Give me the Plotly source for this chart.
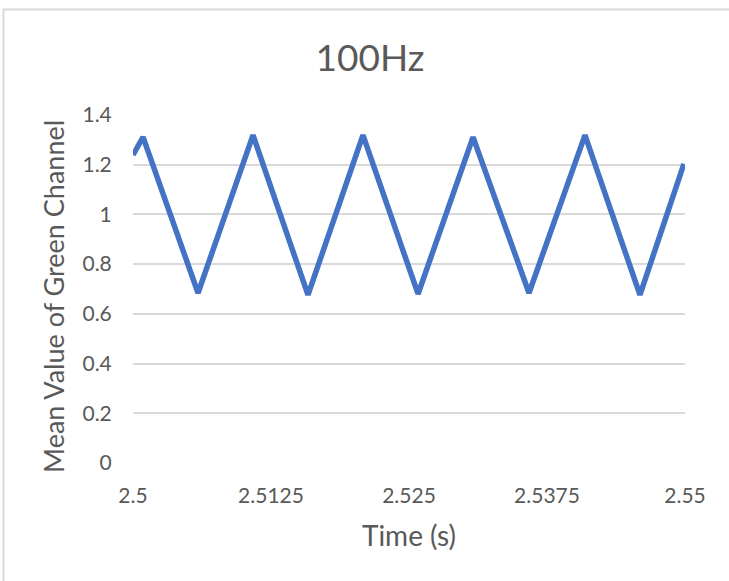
import plotly.graph_objects as go

# Vertices of the green-channel waveform (time in s, mean value)
time_s = [2.5000, 2.50091, 2.50589, 2.51087, 2.51585, 2.52083, 2.52582,
          2.53080, 2.53587, 2.54094, 2.54592, 2.5499]
green_mean = [1.239, 1.311, 0.684, 1.319, 0.676, 1.319, 0.680,
              1.311, 0.684, 1.319, 0.676, 1.203]

x_ticks = [2.5, 2.5125, 2.525, 2.5375, 2.55]
x_tick_text = ["2.5", "2.5125", "2.525", "2.5375", "2.55"]
y_ticks = [0, 0.2, 0.4, 0.6, 0.8, 1.0, 1.2, 1.4]
y_tick_text = ["0", "0.2", "0.4", "0.6", "0.8", "1", "1.2", "1.4"]

W, H = 729, 581
L, R, T, B = 133, 44, 115, 118
pw, ph = W - L - R, H - T - B

TEXT = "#595959"
GRID = "#D9D9D9"
FONT = "Lato"


def px_to_paper_x(px):
    return (px - L) / pw


def px_to_paper_y(py):
    return (H - B - py) / ph


fig = go.Figure()
fig.add_trace(go.Scatter(
    x=time_s, y=green_mean, mode="lines",
    line=dict(color="#4472C4", width=5.5),
    hoverinfo="skip", showlegend=False,
))

fig.update_layout(
    width=W, height=H,
    margin=dict(l=L, r=R, t=T, b=B, pad=0),
    paper_bgcolor="white", plot_bgcolor="white",
    font=dict(family=FONT, color=TEXT),
    title=dict(text="100Hz", x=370 / W, xanchor="center",
               y=1 - 58 / H, yanchor="middle",
               font=dict(family=FONT, size=37, color=TEXT)),
    xaxis=dict(
        range=[2.5, 2.55], tickvals=x_ticks, ticktext=x_tick_text,
        showgrid=False, zeroline=False, showline=False,
        ticks="outside", ticklen=14, tickcolor="rgba(0,0,0,0)",
        tickfont=dict(family=FONT, size=21, color=TEXT),
        title=dict(text="Time (s)", standoff=20,
                   font=dict(family=FONT, size=28, color=TEXT)),
    ),
    yaxis=dict(
        range=[0, 1.4], tickvals=y_ticks, ticktext=y_tick_text,
        showgrid=True, gridcolor=GRID, gridwidth=2,
        zeroline=False, showline=False,
        ticks="outside", ticklen=16, tickcolor="rgba(0,0,0,0)",
        tickfont=dict(family=FONT, size=21, color=TEXT),
    ),
)

# Vertical axis title
fig.add_annotation(
    text="Mean Value of Green Channel", textangle=-90,
    xref="paper", yref="paper",
    x=px_to_paper_x(53), y=px_to_paper_y(297),
    xanchor="center", yanchor="middle", showarrow=False,
    font=dict(family=FONT, size=27, color=TEXT),
)

# Chart-area border (top and left edges visible in the frame)
fig.add_shape(type="rect", xref="paper", yref="paper",
              x0=px_to_paper_x(3.5), x1=px_to_paper_x(W + 10),
              y0=px_to_paper_y(H + 10), y1=px_to_paper_y(9.5),
              line=dict(color=GRID, width=2), fillcolor="rgba(0,0,0,0)",
              layer="below")

fig.write_html("out.html")
